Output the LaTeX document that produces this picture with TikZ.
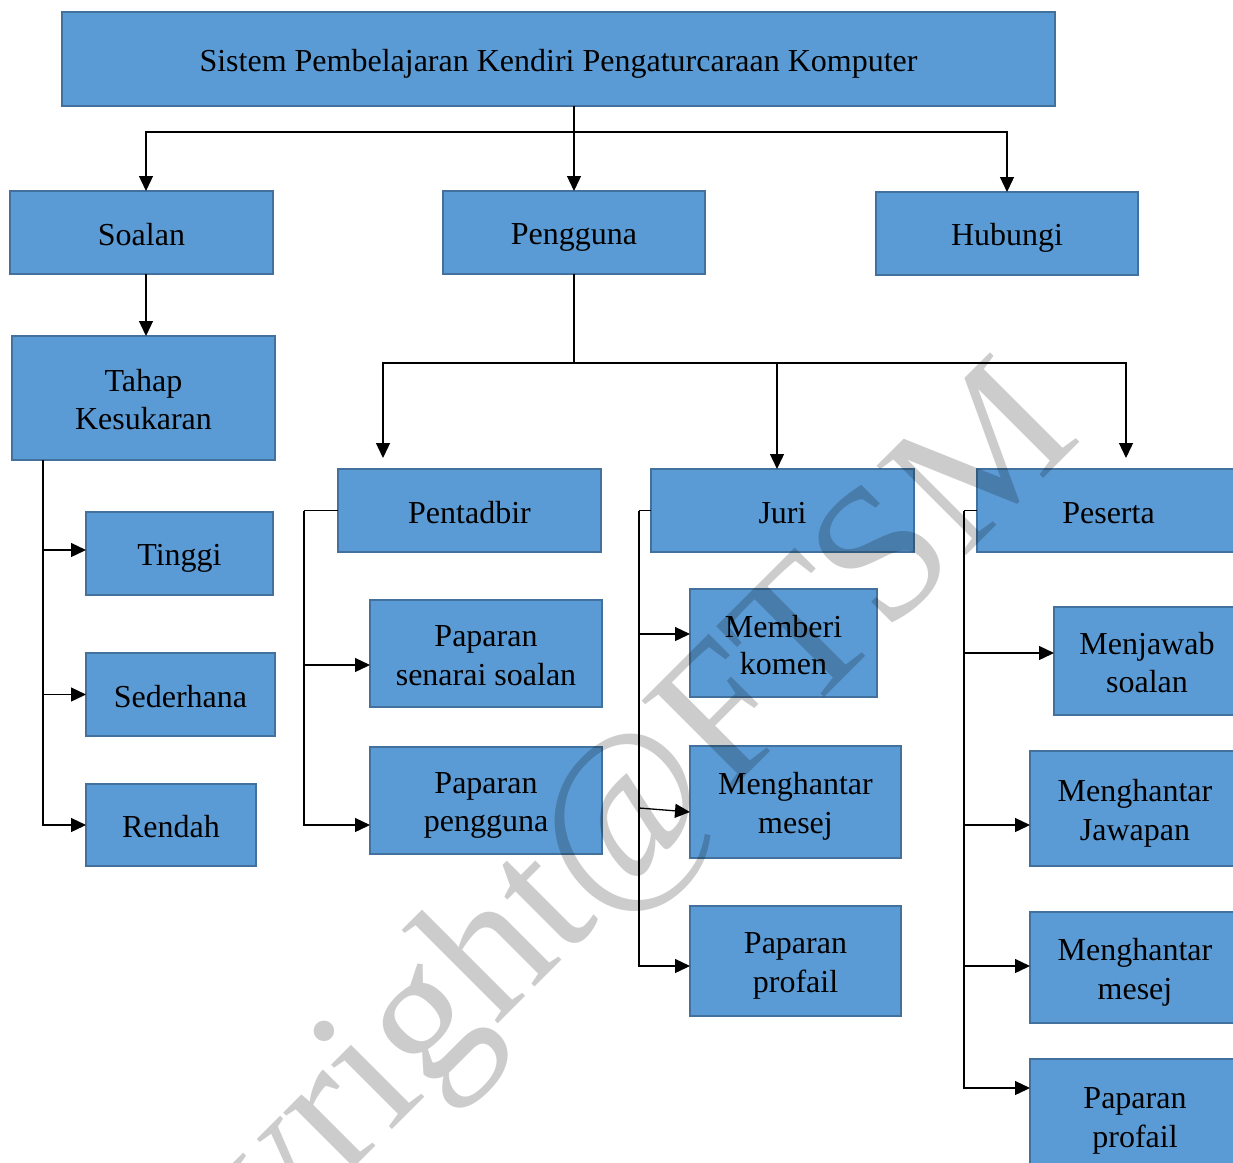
\documentclass[tikz,border=0pt]{standalone}
\usepackage{fontspec}
\setmainfont{Liberation Serif}
\usetikzlibrary{arrows.meta}
\definecolor{boxfill}{HTML}{5B9BD5}
\definecolor{boxline}{HTML}{41719C}
% fixed line box: 31pt above the baseline, 6pt below
\newcommand{\linestrut}{\rule[-6pt]{0pt}{37pt}}
\begin{document}
\begin{tikzpicture}[x=1pt,y=-1pt,
  box/.style={draw=boxline, fill=boxfill, line width=2.2pt, inner sep=0pt, outer sep=0pt,
    align=center, text=black, font=\fontsize{32}{37}\selectfont,
    execute at begin node=\linestrut, execute at end node=\linestrut},
  link/.style={line width=1.3pt, draw=black},
  arr/.style={link, -{Triangle[length=15pt,width=14pt]}}]
\useasboundingbox (0,0) rectangle (1233,1162);
\clip (0,0) rectangle (1233,1162);
\fill[white] (0,0) rectangle (1233,1162);

% top level
\node[box, minimum width=993pt, minimum height=94pt] (title) at (558.5,59)
  {Sistem Pembelajaran Kendiri Pengaturcaraan Komputer};
\node[box, minimum width=263pt, minimum height=83pt] (soalan) at (141.5,232.5) {Soalan};
\node[box, minimum width=262pt, minimum height=83pt] (pengguna) at (574,232.5) {Pengguna};
\node[box, minimum width=262pt, minimum height=83pt] (hubungi) at (1007,233.5) {Hubungi};

% Soalan branch
\node[box, minimum width=263pt, minimum height=124pt] (tahap) at (143.5,398)
  {\linestrut Tahap\\Kesukaran\linestrut};
\node[box, minimum width=187pt, minimum height=83pt] (tinggi) at (179.5,553.5) {Tinggi};
\node[box, minimum width=189pt, minimum height=83pt] (sederhana) at (180.5,694.5) {Sederhana};
\node[box, minimum width=170pt, minimum height=82pt] (rendah) at (171,825) {Rendah};

% Pengguna branch
\node[box, minimum width=263pt, minimum height=83pt] (pentadbir) at (469.5,510.5) {Pentadbir};
\node[box, minimum width=232pt, minimum height=107pt] (senarai) at (486,653.5)
  {\linestrut Paparan\\senarai soalan\linestrut};
\node[box, minimum width=232pt, minimum height=107pt] (ppengguna) at (486,800.5)
  {\linestrut Paparan\\pengguna\linestrut};

\node[box, minimum width=263pt, minimum height=83pt] (juri) at (782.5,510.5) {Juri};
\node[box, minimum width=187pt, minimum height=108pt] (komen) at (783.5,643)
  {\linestrut Memberi\\komen\linestrut};
\node[box, minimum width=211pt, minimum height=112pt] (jmesej) at (795.5,802)
  {\linestrut Menghantar\\mesej\linestrut};
\node[box, minimum width=211pt, minimum height=110pt] (jprofail) at (795.5,961)
  {\linestrut Paparan\\profail\linestrut};

\node[box, minimum width=263pt, minimum height=83pt] (peserta) at (1108.5,510.5) {Peserta};
\node[box, minimum width=186pt, minimum height=108pt] (menjawab) at (1147,661)
  {\linestrut Menjawab\\soalan\linestrut};
\node[box, minimum width=210pt, minimum height=115pt] (jawapan) at (1135,808.5)
  {\linestrut Menghantar\\Jawapan\linestrut};
\node[box, minimum width=210pt, minimum height=111pt] (pmesej) at (1135,967.5)
  {\linestrut Menghantar\\mesej\linestrut};
\node[box, minimum width=210pt, minimum height=114pt] (pprofail) at (1135,1116)
  {\linestrut Paparan\\profail\linestrut};

% connectors from the title
\coordinate (j1) at (574,132);
\draw[link] (title.south -| j1) -- (j1);
\draw[arr] (j1) -| ([xshift=4.5pt]soalan.north);
\draw[arr] (j1) -- (pengguna.north);
\draw[arr] (j1) -| (hubungi.north);
\draw[arr] ([xshift=4.5pt]soalan.south) -- ([xshift=2.5pt]tahap.north);

% connectors from Pengguna
\coordinate (j2) at (574,363);
\coordinate (pa) at (383,458);
\coordinate (pe) at (1126,458);
\draw[link] (pengguna.south) -- (j2);
\draw[arr] (j2) -| (pa);
\draw[arr] (j2) -| ([xshift=-5.5pt]juri.north);
\draw[arr] (j2) -| (pe);

% difficulty levels
\coordinate (tk) at ([xshift=31pt]tahap.south west);
\coordinate (t1) at ([yshift=3.5pt]tinggi.west);
\draw[arr] (tk) |- (rendah.west);
\draw[arr] (t1 -| tk) -- (t1);
\draw[arr] (sederhana.west -| tk) -- (sederhana.west);

% Pentadbir
\coordinate (pd) at ([xshift=-34pt]pentadbir.west);
\coordinate (p1) at ([yshift=-11.5pt]senarai.west);
\coordinate (p2) at ([yshift=-24.5pt]ppengguna.west);
\draw[link] (pentadbir.west) -- (pd);
\draw[arr] (pd) |- (p2);
\draw[arr] (p1 -| pd) -- (p1);

% Juri
\coordinate (jd) at ([xshift=-12pt]juri.west);
\coordinate (q1) at ([yshift=9pt]komen.west);
\coordinate (q2) at ([yshift=-10pt]jmesej.west);
\coordinate (q2s) at ([yshift=4pt]q2);
\coordinate (q3) at ([yshift=-5pt]jprofail.west);
\draw[link] (juri.west) -- (jd);
\draw[arr] (jd) |- (q3);
\draw[arr] (q1 -| jd) -- (q1);
\draw[arr] (q2s -| jd) -- (q2);

% Peserta
\coordinate (sd) at ([xshift=-13pt]peserta.west);
\coordinate (s1) at ([yshift=8pt]menjawab.west);
\coordinate (s2) at ([yshift=-16.5pt]jawapan.west);
\coordinate (s3) at ([yshift=1.5pt]pmesej.west);
\coordinate (s4) at ([yshift=28pt]pprofail.west);
\draw[link] (peserta.west) -- (sd);
\draw[arr] (sd) |- (s4);
\draw[arr] (s1 -| sd) -- (s1);
\draw[arr] (s2 -| sd) -- (s2);
\draw[arr] (s3 -| sd) -- (s3);

% copyright mark across the chart
\node[rotate=45, anchor=base east, inner sep=0pt, text=black, text opacity=0.2,
  font=\fontsize{193}{193}\selectfont] (mark) at (1084,438) {Copyright@FTSM};
\end{tikzpicture}
\end{document}
